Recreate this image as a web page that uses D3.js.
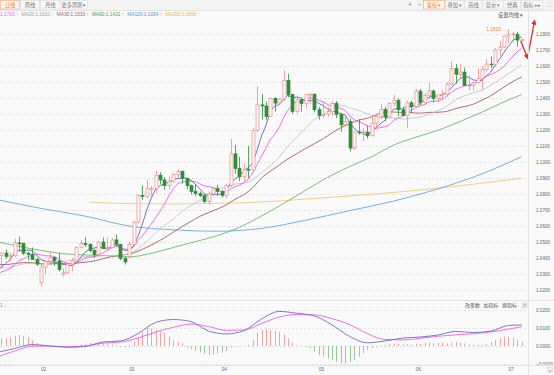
<!DOCTYPE html>
<html>
<head>
<meta charset="utf-8">
<script src="https://cdn.jsdelivr.net/npm/d3@7"></script>
<style>
body { margin: 0; background: #fafafa; }
svg { display: block; font-family: "Liberation Sans", Arial, sans-serif; }
.cjk { font-family: "Noto Sans CJK SC", sans-serif; }
</style>
</head>
<body>
<div id="chart"></div>
<script>
// EUR/USD daily, 2025-01-20 .. 2025-07-04
const dates = ["01-20","01-21","01-22","01-23","01-24","01-27","01-28","01-29","01-30","01-31",
  "02-03","02-04","02-05","02-06","02-07","02-10","02-11","02-12","02-13","02-14",
  "02-17","02-18","02-19","02-20","02-21","02-24","02-25","02-26","02-27","02-28",
  "03-03","03-04","03-05","03-06","03-07","03-10","03-11","03-12","03-13","03-14",
  "03-17","03-18","03-19","03-20","03-21","03-24","03-25","03-26","03-27","03-28","03-31",
  "04-01","04-02","04-03","04-04","04-07","04-08","04-09","04-10","04-11","04-14",
  "04-15","04-16","04-17","04-18","04-21","04-22","04-23","04-24","04-25","04-28","04-29","04-30",
  "05-01","05-02","05-05","05-06","05-07","05-08","05-09","05-12","05-13","05-14",
  "05-15","05-16","05-19","05-20","05-21","05-22","05-23","05-26","05-27","05-28","05-29","05-30",
  "06-02","06-03","06-04","06-05","06-06","06-09","06-10","06-11","06-12","06-13",
  "06-16","06-17","06-18","06-19","06-20","06-23","06-24","06-25","06-26","06-27","06-30",
  "07-01","07-02","07-03","07-04"];

const open = [1.0272,1.0417,1.0431,1.0409,1.0414,1.0494,1.0492,1.0430,1.0422,1.0390,
  1.0245,1.0344,1.0380,1.0404,1.0382,1.0300,1.0307,1.0362,1.0382,1.0465,
  1.0492,1.0485,1.0447,1.0421,1.0500,1.0459,1.0465,1.0513,1.0485,1.0398,
  1.0410,1.0484,1.0624,1.0791,1.0785,1.0833,1.0834,1.0918,1.0888,1.0852,
  1.0880,1.0922,1.0942,1.0898,1.0852,1.0816,1.0803,1.0790,1.0753,1.0800,1.0833,
  1.0816,1.0792,1.0853,1.1051,1.0960,1.0907,1.0954,1.0950,1.1198,1.1357,
  1.1350,1.1285,1.1397,1.1368,1.1394,1.1510,1.1421,1.1315,1.1389,1.1365,1.1422,1.1424,
  1.1327,1.1290,1.1298,1.1315,1.1367,1.1297,1.1232,1.1252,1.1087,1.1188,
  1.1182,1.1187,1.1164,1.1242,1.1283,1.1329,1.1281,1.1365,1.1386,1.1326,1.1291,1.1370,
  1.1347,1.1443,1.1372,1.1417,1.1444,1.1397,1.1419,1.1424,1.1487,1.1584,
  1.1548,1.1562,1.1477,1.1479,1.1496,1.1523,1.1579,1.1612,1.1609,1.1700,1.1718,
  1.1787,1.1799,1.1798,1.1762];
const high = [1.0430,1.0434,1.0453,1.0435,1.0521,1.0533,1.0496,1.0440,1.0466,1.0401,
  1.0370,1.0385,1.0442,1.0408,1.0431,1.0336,1.0370,1.0398,1.0472,1.0513,
  1.0529,1.0492,1.0457,1.0505,1.0528,1.0528,1.0524,1.0545,1.0486,1.0410,
  1.0500,1.0630,1.0797,1.0854,1.0889,1.0850,1.0947,1.0936,1.0906,1.0907,
  1.0929,1.0955,1.0947,1.0902,1.0860,1.0858,1.0815,1.0802,1.0815,1.0843,1.0858,
  1.0826,1.0866,1.1145,1.1107,1.1033,1.0987,1.1100,1.1215,1.1474,1.1425,
  1.1378,1.1404,1.1405,1.1400,1.1573,1.1550,1.1427,1.1416,1.1395,1.1424,1.1425,1.1427,
  1.1343,1.1380,1.1345,1.1380,1.1381,1.1307,1.1292,1.1271,1.1192,1.1266,
  1.1213,1.1228,1.1287,1.1293,1.1363,1.1345,1.1376,1.1419,1.1398,1.1346,1.1384,1.1384,
  1.1455,1.1456,1.1434,1.1495,1.1453,1.1422,1.1452,1.1498,1.1632,1.1613,
  1.1614,1.1590,1.1541,1.1503,1.1586,1.1600,1.1641,1.1659,1.1714,1.1754,1.1790,
  1.1830,1.1812,1.1814,1.1772];
const low = [1.0266,1.0340,1.0395,1.0380,1.0405,1.0440,1.0418,1.0383,1.0390,1.0350,
  1.0221,1.0299,1.0357,1.0350,1.0315,1.0283,1.0300,1.0318,1.0375,1.0460,
  1.0469,1.0435,1.0400,1.0410,1.0456,1.0448,1.0460,1.0475,1.0386,1.0359,
  1.0400,1.0472,1.0616,1.0764,1.0774,1.0780,1.0806,1.0861,1.0827,1.0826,
  1.0870,1.0904,1.0866,1.0830,1.0797,1.0786,1.0780,1.0744,1.0733,1.0787,1.0789,
  1.0778,1.0774,1.0844,1.0930,1.0880,1.0881,1.0900,1.0946,1.1187,1.1266,
  1.1265,1.1283,1.1315,1.1357,1.1382,1.1405,1.1302,1.1301,1.1315,1.1337,1.1361,1.1310,
  1.1265,1.1273,1.1283,1.1289,1.1275,1.1190,1.1223,1.1065,1.1075,1.1170,
  1.1131,1.1148,1.1160,1.1214,1.1268,1.1255,1.1272,1.1349,1.1286,1.1285,1.1211,1.1306,
  1.1340,1.1356,1.1357,1.1394,1.1373,1.1372,1.1385,1.1409,1.1479,1.1490,
  1.1523,1.1473,1.1446,1.1446,1.1492,1.1453,1.1568,1.1588,1.1597,1.1662,1.1714,
  1.1745,1.1746,1.1721,1.1754];
const close = [1.0417,1.0431,1.0409,1.0414,1.0494,1.0492,1.0430,1.0422,1.0390,1.0362,
  1.0344,1.0380,1.0404,1.0382,1.0328,1.0307,1.0362,1.0382,1.0465,1.0492,
  1.0485,1.0447,1.0421,1.0500,1.0459,1.0465,1.0513,1.0485,1.0398,1.0375,
  1.0484,1.0624,1.0791,1.0785,1.0833,1.0834,1.0918,1.0888,1.0852,1.0880,
  1.0922,1.0942,1.0898,1.0852,1.0816,1.0803,1.0790,1.0753,1.0800,1.0833,1.0816,
  1.0792,1.0853,1.1051,1.0960,1.0907,1.0954,1.0950,1.1198,1.1357,1.1350,
  1.1285,1.1397,1.1368,1.1394,1.1510,1.1421,1.1315,1.1389,1.1365,1.1422,1.1424,1.1327,
  1.1290,1.1298,1.1315,1.1367,1.1297,1.1232,1.1252,1.1087,1.1188,1.1182,
  1.1187,1.1164,1.1242,1.1283,1.1329,1.1281,1.1365,1.1386,1.1326,1.1291,1.1370,1.1347,
  1.1443,1.1372,1.1417,1.1444,1.1397,1.1419,1.1424,1.1487,1.1584,1.1548,
  1.1562,1.1479,1.1479,1.1496,1.1523,1.1579,1.1612,1.1609,1.1700,1.1718,1.1787,
  1.1799,1.1800,1.1762,1.1764];

// moving averages as they appear on the chart
const ma5 = [1.0318,1.0342,1.0366,1.0389,1.0433,1.0448,1.0448,1.0450,1.0446,1.0419,
  1.0390,1.0380,1.0376,1.0374,1.0368,1.0360,1.0357,1.0352,1.0369,1.0402,
  1.0437,1.0454,1.0462,1.0469,1.0462,1.0458,1.0472,1.0484,1.0464,1.0447,
  1.0451,1.0473,1.0534,1.0612,1.0703,1.0773,1.0832,1.0852,1.0865,1.0874,
  1.0892,1.0897,1.0899,1.0899,1.0886,1.0862,1.0832,1.0803,1.0792,1.0796,
  1.0798,1.0799,1.0819,1.0869,1.0894,1.0913,1.0945,1.0964,1.0994,1.1073,
  1.1162,1.1228,1.1317,1.1351,1.1359,1.1391,1.1418,1.1402,1.1406,1.1400,
  1.1382,1.1383,1.1385,1.1366,1.1352,1.1331,1.1319,1.1313,1.1302,1.1293,
  1.1247,1.1211,1.1188,1.1179,1.1162,1.1193,1.1212,1.1241,1.1260,1.1300,
  1.1329,1.1337,1.1330,1.1348,1.1344,1.1355,1.1365,1.1390,1.1405,1.1415,
  1.1410,1.1420,1.1434,1.1462,1.1492,1.1521,1.1532,1.1530,1.1513,1.1508,
  1.1511,1.1538,1.1564,1.1605,1.1644,1.1685,1.1723,1.1761,1.1773,1.1782];
const ma10 = [1.0304,1.0312,1.0322,1.0333,1.0358,1.0383,1.0395,1.0408,1.0417,1.0426,
  1.0419,1.0414,1.0413,1.0410,1.0393,1.0375,1.0368,1.0364,1.0372,1.0385,
  1.0399,1.0405,1.0407,1.0419,1.0432,1.0448,1.0463,1.0473,1.0467,1.0455,
  1.0455,1.0472,1.0509,1.0538,1.0575,1.0612,1.0653,1.0693,1.0738,1.0789,
  1.0833,1.0865,1.0875,1.0882,1.0880,1.0877,1.0864,1.0851,1.0846,1.0841,
  1.0830,1.0815,1.0811,1.0831,1.0845,1.0856,1.0872,1.0892,1.0931,1.0984,
  1.1037,1.1087,1.1141,1.1173,1.1216,1.1276,1.1323,1.1360,1.1379,1.1379,
  1.1387,1.1401,1.1394,1.1386,1.1376,1.1357,1.1351,1.1349,1.1334,1.1322,
  1.1289,1.1265,1.1251,1.1241,1.1227,1.1220,1.1211,1.1215,1.1220,1.1231,
  1.1261,1.1275,1.1285,1.1304,1.1322,1.1342,1.1351,1.1360,1.1376,1.1379,
  1.1383,1.1392,1.1412,1.1433,1.1454,1.1465,1.1476,1.1482,1.1488,1.1500,
  1.1516,1.1535,1.1547,1.1559,1.1576,1.1598,1.1630,1.1662,1.1689,1.1713];
const maEvenAt = [0,2,4,6,8,10,12,14,16,18,20,22,24,26,28,30,32,34,36,38,40,42,44,46,48,50,52,54,56,58,
  60,62,64,66,68,70,72,74,76,78,80,82,84,86,88,90,92,94,96,98,100,102,104,106,108,110,112,114,116,118,119];
const ma20 = [1.0337,1.0338,1.0350,1.0363,1.0366,1.0361,1.0367,1.0376,1.0382,1.0394,
  1.0409,1.0410,1.0413,1.0416,1.0419,1.0427,1.0458,1.0504,1.0558,1.0603,
  1.0644,1.0692,1.0728,1.0759,1.0792,1.0832,1.0843,1.0863,1.0868,1.0889,
  1.0934,1.0976,1.1031,1.1098,1.1155,1.1212,1.1267,1.1296,1.1337,1.1356,
  1.1338,1.1322,1.1302,1.1281,1.1277,1.1275,1.1268,1.1275,1.1281,1.1298,
  1.1322,1.1349,1.1388,1.1414,1.1432,1.1449,1.1480,1.1515,1.1553,1.1588,1.1607];
const ma30 = [1.0360,1.0359,1.0365,1.0371,1.0371,1.0364,1.0363,1.0365,1.0364,1.0368,
  1.0374,1.0381,1.0395,1.0409,1.0418,1.0424,1.0443,1.0467,1.0495,1.0526,
  1.0562,1.0597,1.0629,1.0660,1.0684,1.0706,1.0732,1.0767,1.0796,1.0839,
  1.0900,1.0942,1.0980,1.1020,1.1052,1.1085,1.1115,1.1146,1.1182,1.1215,
  1.1238,1.1262,1.1273,1.1295,1.1311,1.1312,1.1310,1.1308,1.1305,1.1310,
  1.1311,1.1316,1.1334,1.1346,1.1361,1.1387,1.1415,1.1450,1.1486,1.1518,1.1531];
const ma60At = [0,5,10,15,20,25,30,35,40,45,50,55,60,65,70,75,80,85,90,95,100,105,110,115,119];
const ma60 = [1.0502,1.0473,1.0447,1.0427,1.0419,1.0415,1.0407,1.0429,1.0466,1.0502,
  1.0540,1.0592,1.0662,1.0741,1.0823,1.0904,1.0972,1.1033,1.1106,1.1155,
  1.1198,1.1253,1.1312,1.1376,1.1421];
const ma120At = [0,10,20,30,40,50,60,70,80,90,100,110,119];
const ma120 = [1.0765,1.0710,1.0662,1.0600,1.0576,1.0567,1.0585,1.0636,1.0696,1.0756,1.0832,1.0926,1.1034];
const ma250At = [21,30,40,50,60,70,80,90,100,110,119];
const ma250 = [1.0750,1.0740,1.0738,1.0742,1.0750,1.0768,1.0788,1.0810,1.0836,1.0868,1.0898];

// MACD(12,26,9)
const macdAt = [0,4,8,12,16,20,24,28,32,36,40,44,48,52,56,60,64,68,72,76,80,84,88,92,96,100,104,108,112,116,119];
const dif = [-0.0036,-0.0014,0.0008,0,-0.0007,-0.0003,0.0022,0.0028,0.0069,0.0131,
  0.0147,0.0136,0.0083,0.0067,0.0085,0.0150,0.0192,0.0182,0.0167,0.0117,
  0.0053,0.0018,0.0028,0.0044,0.0050,0.0061,0.0081,0.0075,0.0083,0.0114,0.0117];
const dea = [-0.0061,-0.0028,-0.0001,0,-0.0004,0,0.0016,0.0022,0.0044,0.0078,
  0.0104,0.0122,0.0108,0.0087,0.0089,0.0125,0.0161,0.0175,0.0173,0.0152,
  0.0119,0.0069,0.0036,0.0034,0.0043,0.0054,0.0062,0.0068,0.0078,0.0094,0.0107];
const macdBar = [0.0039,0.0043,0.0043,0.0048,0.0057,0.0061,0.0056,0.0048,0.0033,0.0018,
  0.0008,0.0003,0.0002,-0.0002,-0.0003,-0.0003,-0.0002,0.0002,0.0006,0.0011,
  0.0014,0.0017,0.0014,0.0017,0.0015,0.0014,0.0008,0.0003,-0.0006,-0.0008,
  0.0006,0.0028,0.0048,0.0079,0.0107,0.0098,0.0089,0.0079,0.0071,0.0052,
  0.0033,0.0022,0.0015,-0.0008,-0.0017,-0.0028,-0.0036,-0.0044,-0.0050,-0.0047,
  -0.0042,-0.0036,-0.0028,-0.0006,-0.0003,0.0002,0.0003,0.0006,0.0033,0.0074,
  0.0089,0.0093,0.0089,0.0085,0.0079,0.0067,0.0043,0.0018,0.0006,0.0003,
  -0.0006,-0.0013,-0.0032,-0.0050,-0.0059,-0.0068,-0.0078,-0.0087,-0.0096,-0.0096,
  -0.0087,-0.0078,-0.0059,-0.0041,-0.0022,-0.0011,-0.0006,0.0003,0.0006,0.0011,
  0.0014,0.0011,0.0008,0.0011,0.0008,0.0014,0.0011,0.0017,0.0019,0.0014,
  0.0017,0.0019,0.0014,0.0019,0.0022,0.0019,0.0015,0.0008,0.0006,0.0006,
  0.0006,0.0011,0.0024,0.0033,0.0043,0.0052,0.0052,0.0048,0.0033,0.0024];

const priceTicks = [1.18,1.17,1.16,1.15,1.14,1.13,1.12,1.11,1.10,1.09,1.08,1.07,1.06,1.05,1.04,1.03,1.02];
const macdTicks = [0.02,0.01,0,-0.01];
const monthTicks = ["02-03","03-03","04-01","05-01","06-02","07-01"];
const monthLabels = ["02","03","04","05","06","07"];

const legendItems = [
  {text: "1.1710", color: "#e85ce8"},
  {text: "MA20:1.1610", color: "#9a9a9a"},
  {text: "MA30:1.1533", color: "#b05858"},
  {text: "MA60:1.1421", color: "#4aa04a"},
  {text: "MA120:1.1034", color: "#4a98e0"},
  {text: "MA250:1.0898", color: "#f0b848"}
];

// layout
const W = 554, H = 375;
const plotR = 528;
const mainTop = 20, mainBot = 300, macdBot = 365;

const svg = d3.select("#chart").append("svg")
    .attr("width", W)
    .attr("height", H);

svg.append("rect").attr("width", W).attr("height", H).attr("fill", "#fafafa");

const x = d3.scalePoint().domain(dates).range([-3.1, 521.7]);
const y = d3.scaleLinear().domain([1.02, 1.18]).range([290, 34]);
const ym = d3.scaleLinear().domain([-0.01, 0.02]).range([364, 310]);

const defs = svg.append("defs");
defs.append("clipPath").attr("id", "clipMain")
  .append("rect").attr("x", 0).attr("y", mainTop).attr("width", plotR).attr("height", mainBot - mainTop);
defs.append("clipPath").attr("id", "clipMacd")
  .append("rect").attr("x", 0).attr("y", mainBot + 1).attr("width", plotR).attr("height", macdBot - mainBot - 1);
defs.append("marker").attr("id", "redHead")
    .attr("viewBox", "0 0 10 10").attr("refX", 7).attr("refY", 5)
    .attr("markerWidth", 4).attr("markerHeight", 4).attr("orient", "auto")
  .append("path").attr("d", "M0,0 L10,5 L0,10 z").attr("fill", "#e52b2b");

// ---- toolbar ----
const bar = svg.append("g");
bar.append("rect").attr("width", W).attr("height", 10).attr("fill", "#f4f4f4");
bar.append("line").attr("x1", 0).attr("x2", W).attr("y1", 10.5).attr("y2", 10.5).attr("stroke", "#e2e2e2");

const leftTabs = [
  {t: "日线", x: 0.5, w: 19, on: true},
  {t: "周线", x: 20.5, w: 19},
  {t: "月线", x: 40.5, w: 19.5},
  {t: "更多周期 ▾", x: 60.5, w: 27}
];
const rightTabs = [
  {t: "复权 ▾", x: 423.5, w: 21, on: true},
  {t: "叠加 ▾", x: 445.5, w: 18.5},
  {t: "画线", x: 465, w: 17},
  {t: "显示 ▾", x: 483, w: 20},
  {t: "经典", x: 504, w: 16.5},
  {t: "指标 ▸▸", x: 521.5, w: 21}
];
leftTabs.concat(rightTabs).forEach(function(d) {
  bar.append("rect")
    .attr("x", d.x).attr("y", 0.5).attr("width", d.w).attr("height", 8.5)
    .attr("fill", d.on ? "#fff6ef" : "#f8f8f8")
    .attr("stroke", d.on ? "#f4a46e" : "#dcdcdc").attr("stroke-width", 0.6);
  bar.append("text").attr("class", "cjk")
    .attr("x", d.x + d.w / 2).attr("y", 6.6)
    .attr("text-anchor", "middle").attr("font-size", 5.2)
    .attr("fill", d.on ? "#f07a32" : "#777")
    .text(d.t);
});
bar.append("text").attr("x", 410).attr("y", 7).attr("text-anchor", "middle").attr("font-size", 7).attr("fill", "#888").text("+");
bar.append("text").attr("x", 419).attr("y", 7).attr("text-anchor", "middle").attr("font-size", 7).attr("fill", "#888").text("−");
bar.append("text").attr("x", 549).attr("y", 7).attr("text-anchor", "middle").attr("font-size", 6).attr("fill", "#999").text("⛶");

// ---- legend row ----
let lx = 0;
legendItems.forEach(function(d) {
  const t = svg.append("text")
    .attr("x", lx).attr("y", 16.4)
    .attr("font-size", 4.8)
    .attr("fill", d.color)
    .text(d.text + " ↑");
  lx += t.node().getComputedTextLength() + 3;
});
svg.append("text").attr("class", "cjk")
  .attr("x", 523).attr("y", 17).attr("text-anchor", "end")
  .attr("font-size", 5.2).attr("fill", "#555")
  .text("设置均线 ▾");

// ---- grid + right axis (main) ----
svg.append("g").selectAll("line")
  .data(priceTicks).enter().append("line")
    .attr("x1", 0).attr("x2", plotR)
    .attr("y1", function(d){ return Math.round(y(d)) + 0.5; })
    .attr("y2", function(d){ return Math.round(y(d)) + 0.5; })
    .attr("stroke", "#e3e3e3").attr("stroke-dasharray", "2,2");

const yAxis = svg.append("g")
  .attr("transform", "translate(" + (plotR + 7) + ",0)")
  .call(d3.axisRight(y).tickValues(priceTicks).tickFormat(d3.format(".4f")).tickSize(0).tickPadding(1));
yAxis.select(".domain").remove();
yAxis.selectAll("text").attr("font-size", 4.6).attr("fill", "#666").attr("font-family", "Liberation Sans, Arial, sans-serif");

// ---- moving averages ----
const gMain = svg.append("g").attr("clip-path", "url(#clipMain)");

function fullLine(vals, color) {
  gMain.append("path")
    .datum(vals)
    .attr("fill", "none").attr("stroke", color).attr("stroke-width", 0.9)
    .attr("d", d3.line()
      .x(function(d, i){ return x(dates[i]); })
      .y(function(d){ return y(d); }));
}
function sampledLine(at, vals, color) {
  gMain.append("path")
    .datum(at.map(function(k, j){ return [k, vals[j]]; }))
    .attr("fill", "none").attr("stroke", color).attr("stroke-width", 0.9)
    .attr("d", d3.line()
      .curve(d3.curveMonotoneX)
      .x(function(d){ return x(dates[d[0]]); })
      .y(function(d){ return y(d[1]); }));
}
sampledLine(ma250At, ma250, "#f7c871");
sampledLine(ma120At, ma120, "#62a9e6");
sampledLine(ma60At, ma60, "#6cb86c");
sampledLine(maEvenAt, ma30, "#a85c5c");
sampledLine(maEvenAt, ma20, "#c4c4c4");
fullLine(ma10, "#f25cf2");
fullLine(ma5, "#6b62b8");

// ---- candles ----
const upColor = "#f08c8c", downColor = "#2f8f34";
const candles = gMain.append("g").selectAll("g")
  .data(dates).enter().append("g");

candles.append("line")
  .attr("x1", function(d){ return Math.round(x(d)) + 0.5; })
  .attr("x2", function(d){ return Math.round(x(d)) + 0.5; })
  .attr("y1", function(d, i){ return y(high[i]); })
  .attr("y2", function(d, i){ return y(low[i]); })
  .attr("stroke", function(d, i){ return close[i] >= open[i] ? upColor : downColor; })
  .attr("stroke-width", 0.8);

candles.append("rect")
  .attr("x", function(d){ return Math.round(x(d)) - 1; })
  .attr("width", 3)
  .attr("y", function(d, i){ return y(Math.max(open[i], close[i])); })
  .attr("height", function(d, i){ return Math.max(0.8, Math.abs(y(open[i]) - y(close[i]))); })
  .attr("fill", function(d, i){ return close[i] >= open[i] ? "#fafafa" : downColor; })
  .attr("stroke", function(d, i){ return close[i] >= open[i] ? upColor : downColor; })
  .attr("stroke-width", 0.7);

// high marker
const hiIdx = high.indexOf(d3.max(high));
svg.append("text")
  .attr("x", x(dates[hiIdx]) - 1.5).attr("y", y(high[hiIdx]) + 1.6)
  .attr("text-anchor", "end").attr("font-size", 4.8).attr("fill", "#f0823c")
  .text(d3.format(".4f")(high[hiIdx]) + " →");

// hand drawn red arrow
const lastIdx = dates.length - 1;
svg.append("line")
  .attr("x1", x(dates[lastIdx]) - 1).attr("y1", y(close[lastIdx]) + 1)
  .attr("x2", 527.5).attr("y2", 58)
  .attr("stroke", "#e52b2b").attr("stroke-width", 1.3)
  .attr("marker-end", "url(#redHead)");
svg.append("line")
  .attr("x1", 527.5).attr("y1", 58)
  .attr("x2", 534.5).attr("y2", 21)
  .attr("stroke", "#e52b2b").attr("stroke-width", 1.3)
  .attr("marker-end", "url(#redHead)");

// ---- MACD panel ----
svg.append("line").attr("x1", 0).attr("x2", W).attr("y1", mainBot + 0.5).attr("y2", mainBot + 0.5).attr("stroke", "#e2e2e2");

svg.append("g").selectAll("line")
  .data(macdTicks).enter().append("line")
    .attr("x1", 0).attr("x2", plotR)
    .attr("y1", function(d){ return Math.round(ym(d)) + 0.5; })
    .attr("y2", function(d){ return Math.round(ym(d)) + 0.5; })
    .attr("stroke", "#e3e3e3").attr("stroke-dasharray", "2,2");

const mAxis = svg.append("g")
  .attr("transform", "translate(" + (plotR + 7) + ",0)")
  .call(d3.axisRight(ym).tickValues(macdTicks).tickFormat(d3.format(".4f")).tickSize(0).tickPadding(1));
mAxis.select(".domain").remove();
mAxis.selectAll("text").attr("font-size", 4.6).attr("fill", "#666").attr("font-family", "Liberation Sans, Arial, sans-serif");

const gMacd = svg.append("g").attr("clip-path", "url(#clipMacd)");
gMacd.selectAll("line")
  .data(macdBar).enter().append("line")
    .attr("x1", function(d, i){ return Math.round(x(dates[i])) + 0.5; })
    .attr("x2", function(d, i){ return Math.round(x(dates[i])) + 0.5; })
    .attr("y1", ym(0))
    .attr("y2", function(d){ return ym(d); })
    .attr("stroke", function(d){ return d >= 0 ? "#f5a3a3" : "#96cd96"; })
    .attr("stroke-width", 1);

function macdLine(vals, color) {
  gMacd.append("path")
    .datum(macdAt.map(function(k, j){ return [k, vals[j]]; }))
    .attr("fill", "none").attr("stroke", color).attr("stroke-width", 0.9)
    .attr("d", d3.line()
      .curve(d3.curveMonotoneX)
      .x(function(d){ return x(dates[d[0]]); })
      .y(function(d){ return ym(d[1]); }));
}
macdLine(dea, "#f25cf2");
macdLine(dif, "#7468c0");

svg.append("text").attr("x", 0).attr("y", 307).attr("font-size", 4.8).attr("fill", "#888").text("1 ↓");
["改参数", "加指标", "换指标"].forEach(function(t, i) {
  svg.append("text").attr("class", "cjk")
    .attr("x", 465 + i * 18.5).attr("y", 307)
    .attr("font-size", 5).attr("fill", "#555").text(t);
});
svg.append("rect").attr("x", 522.5).attr("y", 303).attr("width", 4.5).attr("height", 4.5)
  .attr("fill", "#f2f2f2").attr("stroke", "#bbb").attr("stroke-width", 0.5);
svg.append("text").attr("x", 524.75).attr("y", 306.8).attr("text-anchor", "middle")
  .attr("font-size", 4.5).attr("fill", "#888").text("×");

// ---- x axis ----
svg.append("line").attr("x1", 0).attr("x2", W).attr("y1", macdBot + 0.5).attr("y2", macdBot + 0.5).attr("stroke", "#e2e2e2");
svg.append("line").attr("x1", plotR + 0.5).attr("x2", plotR + 0.5).attr("y1", 11).attr("y2", H).attr("stroke", "#e2e2e2");

svg.append("g").selectAll("text")
  .data(monthTicks).enter().append("text")
    .attr("x", function(d){ return x(d); })
    .attr("y", 371.2)
    .attr("font-size", 4.6).attr("fill", "#666")
    .text(function(d, i){ return monthLabels[i]; });

svg.append("rect").attr("x", 547.5).attr("y", 367.5).attr("width", 5).attr("height", 5)
  .attr("fill", "#f4f4f4").attr("stroke", "#ccc").attr("stroke-width", 0.5);
svg.append("text").attr("x", 550).attr("y", 371.5).attr("text-anchor", "middle")
  .attr("font-size", 4.5).attr("fill", "#888").text("»");
</script>
</body>
</html>
